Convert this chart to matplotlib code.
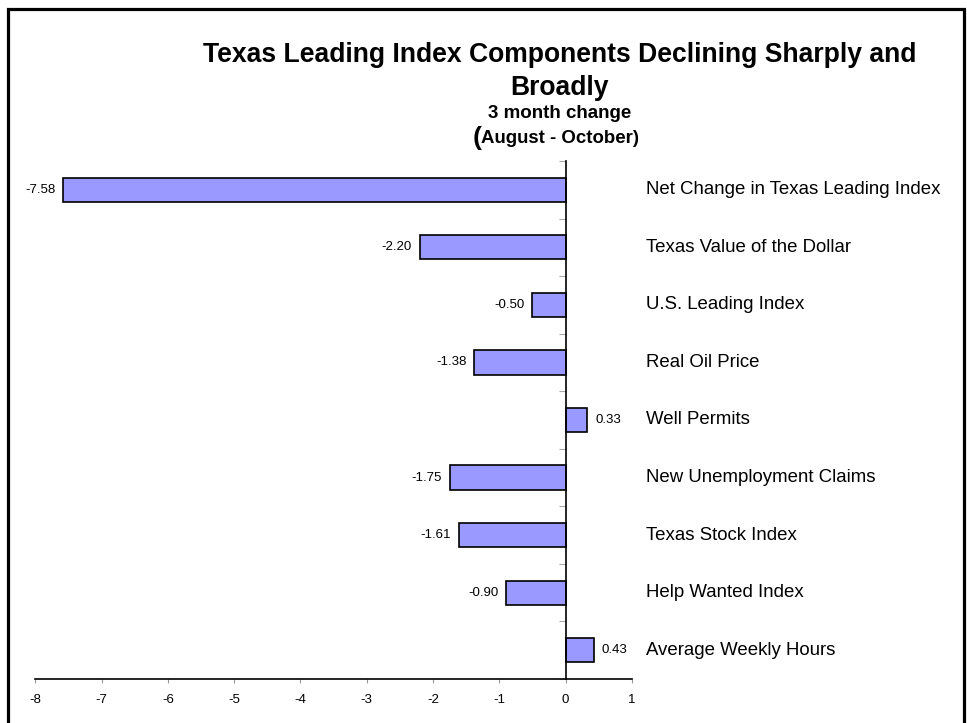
from matplotlib import pyplot as plt
from matplotlib.patches import Rectangle

# components of the Texas leading index, 3 month change
components = ["Net Change in Texas Leading Index", "Texas Value of the Dollar",
              "U.S. Leading Index", "Real Oil Price", "Well Permits",
              "New Unemployment Claims", "Texas Stock Index",
              "Help Wanted Index", "Average Weekly Hours"]
changes = [-7.58, -2.20, -0.50, -1.38, 0.33, -1.75, -1.61, -0.90, 0.43]
xticks = [-8, -7, -6, -5, -4, -3, -2, -1, 0, 1]

plt.rcParams['font.family'] = ['Liberation Sans', 'DejaVu Sans']

W, H = 967, 723
fig = plt.figure(figsize=(W / 100, H / 100), dpi=100)

# outer frame (runs off the bottom of the picture)
fig.patches.append(Rectangle((8 / W, -0.1), 956 / W, 1.1 - 9 / H,
                             transform=fig.transFigure, fill=False,
                             edgecolor="black", linewidth=2.3))

ax = fig.add_axes([35.3 / W, 1 - 679 / H, 596.5 / W, 518 / H])
pos = list(range(len(components)))
ax.barh(pos, changes, height=0.42, color="#9999FF", edgecolor="black", linewidth=1.2)

ax.set_xlim(-8, 1)
ax.set_ylim(len(components) - 0.5, -0.5)
ax.set_xticks(xticks)
ax.set_xticklabels([str(t) for t in xticks], fontsize=9.5)
ax.tick_params(axis="x", direction="out", length=3, color="#999999", pad=8)

ax.set_yticks([p - 0.5 for p in pos] + [len(components) - 0.5])
ax.set_yticklabels([])
ax.tick_params(axis="y", direction="out", length=5, color="#aaaaaa")

ax.spines["top"].set_visible(False)
ax.spines["right"].set_visible(False)
ax.spines["left"].set_position(("data", 0))
ax.spines["left"].set_linewidth(1.2)
ax.spines["bottom"].set_linewidth(1.2)

for p, v in zip(pos, changes):
    if v < 0:
        ax.annotate(f"{v:.2f}", (v, p), xytext=(-5.5, 0), textcoords="offset points",
                    ha="right", va="center", fontsize=9.5)
    else:
        ax.annotate(f"{v:.2f}", (v, p), xytext=(5.5, 0), textcoords="offset points",
                    ha="left", va="center", fontsize=9.5)
    ax.text((646 - 35.3) / 596.5, p, components[p], transform=ax.get_yaxis_transform(),
            ha="left", va="center", fontsize=13.4)

cx = 560 / W
fig.text(cx, 1 - 62 / H, "Texas Leading Index Components Declining Sharply and",
         ha="center", va="baseline", fontsize=19.1, fontweight="bold")
fig.text(cx, 1 - 95 / H, "Broadly", ha="center", va="baseline",
         fontsize=19.1, fontweight="bold")
fig.text(cx, 1 - 118 / H, "3 month change", ha="center", va="baseline",
         fontsize=13.5, fontweight="bold")
fig.text(473 / W, 1 - 145 / H, "(", ha="left", va="baseline",
         fontsize=19, fontweight="bold")
fig.text(481 / W, 1 - 143 / H, "August - October)", ha="left", va="baseline",
         fontsize=13.4, fontweight="bold")

fig.savefig("out.png", dpi=100)
